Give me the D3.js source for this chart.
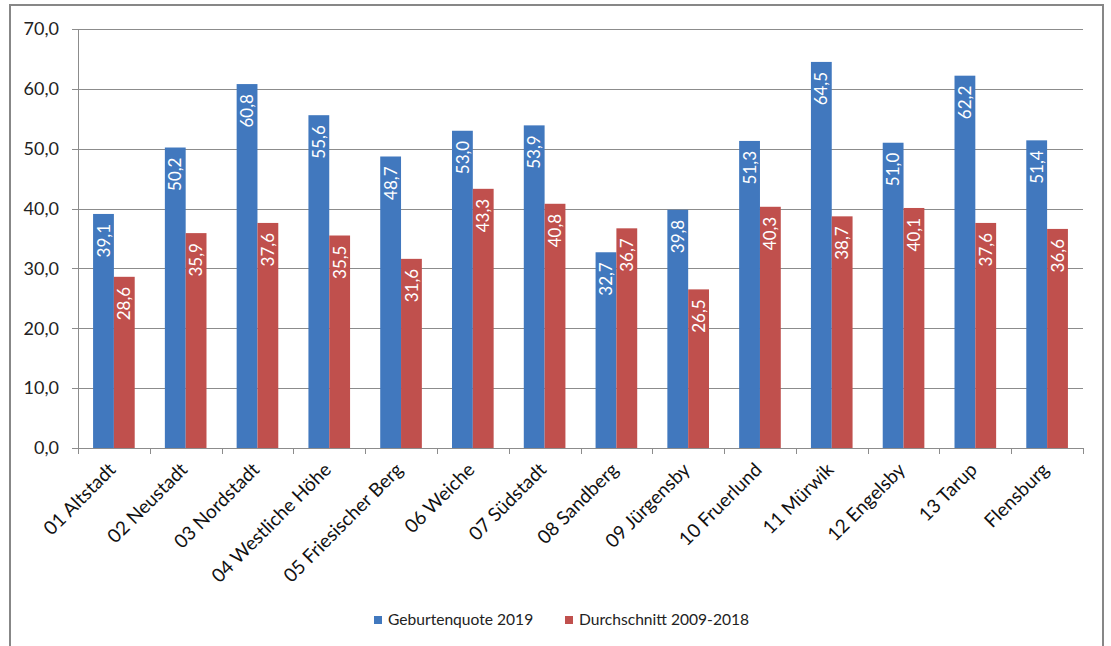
<!DOCTYPE html>
<html>
<head>
<meta charset="utf-8">
<script src="https://cdn.jsdelivr.net/npm/d3@7"></script>
<style>
  html, body { margin: 0; padding: 0; background: #fff; }
  svg { display: block; font-family: Lato, "Open Sans", "Liberation Sans", sans-serif; }
</style>
</head>
<body>
<svg id="chart" width="1111" height="646"></svg>
<script>
const categories = ["01 Altstadt", "02 Neustadt", "03 Nordstadt", "04 Westliche Höhe",
  "05 Friesischer Berg", "06 Weiche", "07 Südstadt", "08 Sandberg", "09 Jürgensby",
  "10 Fruerlund", "11 Mürwik", "12 Engelsby", "13 Tarup", "Flensburg"];
const geburtenquote2019 = [39.1, 50.2, 60.8, 55.6, 48.7, 53.0, 53.9, 32.7, 39.8, 51.3, 64.5, 51.0, 62.2, 51.4];
const durchschnitt = [28.6, 35.9, 37.6, 35.5, 31.6, 43.3, 40.8, 36.7, 26.5, 40.3, 38.7, 40.1, 37.6, 36.6];
const seriesNames = ["Geburtenquote 2019", "Durchschnitt 2009-2018"];
const yTicks = [0, 10, 20, 30, 40, 50, 60, 70];
const colors = ["#4178be", "#c0504d"];

const svg = d3.select("#chart");
const plot = { left: 78, right: 1083, top: 29, bottom: 448 };
const fmt = v => d3.format(".1f")(v).replace(".", ",");

// outer frame (bottom edge runs off the page)
svg.append("rect")
  .attr("x", 10).attr("y", 5).attr("width", 1093).attr("height", 700)
  .attr("fill", "none").attr("stroke", "#878787").attr("stroke-width", 2);

const x = d3.scaleBand().domain(categories).range([plot.left, plot.right]);
const y = d3.scaleLinear().domain([0, 70]).range([plot.bottom, plot.top]);

// gridlines with small outer ticks
svg.append("g").selectAll("line").data(yTicks).join("line")
  .attr("x1", plot.left - 6).attr("x2", plot.right)
  .attr("y1", d => Math.round(y(d)) + 0.5).attr("y2", d => Math.round(y(d)) + 0.5)
  .attr("stroke", "#8c8c8c").attr("stroke-width", 1);

// y axis line
svg.append("line")
  .attr("x1", plot.left + 0.5).attr("x2", plot.left + 0.5)
  .attr("y1", plot.top).attr("y2", plot.bottom)
  .attr("stroke", "#8c8c8c");

// y tick labels
svg.append("g").selectAll("text").data(yTicks).join("text")
  .attr("x", 59).attr("y", d => y(d)).attr("dy", "0.35em")
  .attr("text-anchor", "end").attr("font-size", 18).attr("fill", "#222")
  .text(d => fmt(d));

// category boundary ticks
const boundaries = categories.map(c => x(c)).concat([plot.right]);
svg.append("g").selectAll("line").data(boundaries).join("line")
  .attr("x1", d => Math.round(d) + 0.5).attr("x2", d => Math.round(d) + 0.5)
  .attr("y1", plot.bottom).attr("y2", plot.bottom + 6)
  .attr("stroke", "#8c8c8c");

// bars with value labels
const series = [geburtenquote2019, durchschnitt];
const barW = x.bandwidth() * 0.29;
series.forEach((vals, si) => {
  const g = svg.append("g");
  const bx = (c) => x(c) + x.bandwidth() / 2 + (si === 0 ? -barW : 0);
  g.selectAll("rect").data(categories).join("rect")
    .attr("x", c => bx(c))
    .attr("y", (c, i) => y(vals[i]))
    .attr("width", barW)
    .attr("height", (c, i) => y(0) - y(vals[i]))
    .attr("fill", colors[si]);
  g.selectAll("text").data(categories).join("text")
    .attr("transform", (c, i) => `translate(${bx(c) + barW / 2},${y(vals[i]) + 10}) rotate(-90)`)
    .attr("text-anchor", "end").attr("dy", "0.36em")
    .attr("font-size", 17).attr("fill", "#fff")
    .text((c, i) => fmt(vals[i]));
});

// x axis baseline
svg.append("line")
  .attr("x1", plot.left).attr("x2", plot.right)
  .attr("y1", plot.bottom + 0.5).attr("y2", plot.bottom + 0.5)
  .attr("stroke", "#8c8c8c");

// rotated category labels
svg.append("g").selectAll("text").data(categories).join("text")
  .attr("transform", c => `translate(${x(c) + x.bandwidth() / 2 + 3},${plot.bottom + 23}) rotate(-45)`)
  .attr("text-anchor", "end")
  .attr("font-size", 19).attr("fill", "#111")
  .text(c => c);

// legend
const legend = svg.append("g").attr("font-size", 15.6).attr("fill", "#222");
const legendItems = [{ x: 374, name: seriesNames[0], color: colors[0] }, { x: 565, name: seriesNames[1], color: colors[1] }];
legendItems.forEach(it => {
  legend.append("rect").attr("x", it.x).attr("y", 616).attr("width", 8).attr("height", 8).attr("fill", it.color);
  legend.append("text").attr("x", it.x + 14).attr("y", 620).attr("dy", "0.35em").text(it.name);
});
</script>
</body>
</html>
